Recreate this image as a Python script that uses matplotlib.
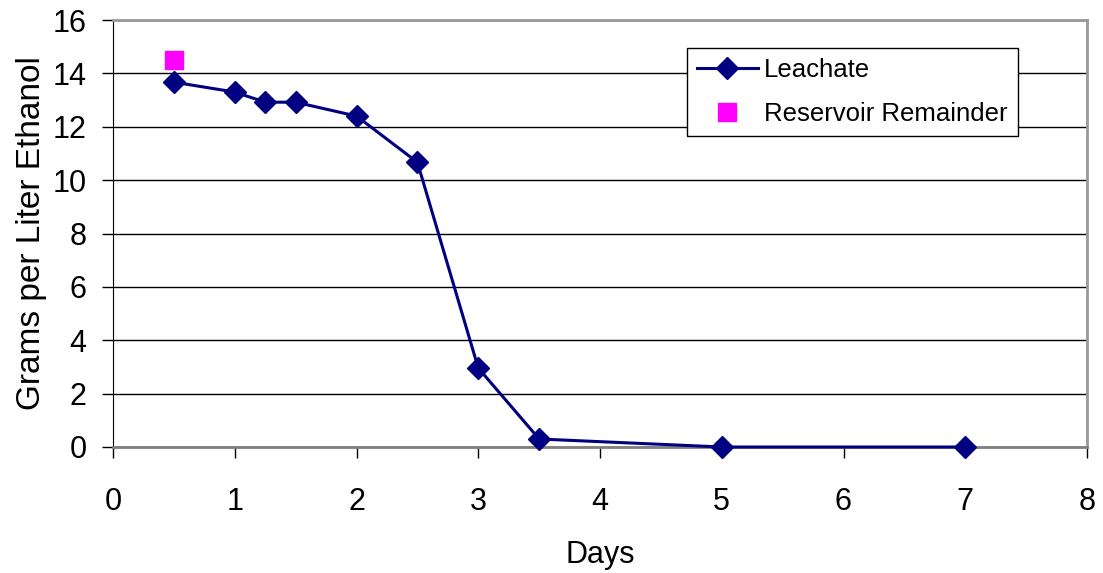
import matplotlib.pyplot as plt

plt.rcParams['font.family'] = ['Liberation Sans', 'DejaVu Sans']

# data
days = [0.5, 1, 1.25, 1.5, 2, 2.5, 3, 3.5, 5, 7]
leachate = [13.67, 13.3, 12.92, 12.92, 12.4, 10.67, 2.96, 0.3, 0.0, 0.0]
reservoir_day = [0.5]
reservoir = [14.5]

fig = plt.figure(figsize=(11.03, 5.73), dpi=100)
ax = fig.add_axes([113 / 1103, 1 - 447 / 573, (1087 - 113) / 1103, (447 - 20) / 573])

ax.plot(days, leachate, color='#000080', lw=2.2, marker='D', ms=11,
        label='Leachate', zorder=3, clip_on=False)
ax.plot(reservoir_day, reservoir, ls='none', marker='s', ms=13,
        color='#FF00FF', label='Reservoir Remainder', zorder=3)

ax.set_xlim(0, 8)
ax.set_ylim(0, 16)
ax.set_xticks(range(0, 9))
ax.set_yticks(range(0, 17, 2))
ax.yaxis.grid(True, color='black', lw=1)
ax.set_axisbelow(True)

for side in ['top', 'right']:
    ax.spines[side].set_color('#999999')
    ax.spines[side].set_linewidth(2)
ax.spines['left'].set_color('black')
ax.spines['bottom'].set_color('#808080')
ax.spines['bottom'].set_linewidth(2)

ax.tick_params(labelsize=22, length=8, width=1, direction='out')
ax.tick_params(axis='x', pad=21)
ax.tick_params(axis='y', pad=11)
ax.set_xlabel('Days', fontsize=22, labelpad=16)
ax.set_ylabel('Grams per Liter Ethanol', fontsize=24, labelpad=4)

leg = ax.legend(loc='upper right', bbox_to_anchor=(0.929, 0.934), fontsize=18.5,
                frameon=True, fancybox=False, edgecolor='black', framealpha=1,
                handlelength=2.35, handletextpad=0.25, borderpad=0.4,
                labelspacing=0.75, borderaxespad=0)
leg.get_frame().set_linewidth(1)

fig.savefig('out.png', dpi=100)
